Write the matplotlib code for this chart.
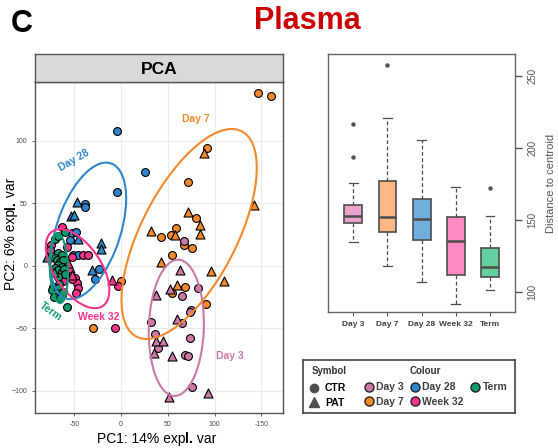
import numpy as np
import matplotlib
matplotlib.use("Agg")
import matplotlib.pyplot as plt
from matplotlib.patches import Ellipse
from matplotlib.lines import Line2D

plt.rcParams['font.family'] = ['Liberation Sans', 'DejaVu Sans']

# ---------------------------------------------------------------
# PCA scores (PC1, PC2) per group, CTR = circles, PAT = triangles

groups = ["Day 3", "Day 7", "Day 28", "Week 32", "Term"]
colours = {"Day 3": "#CC79A7", "Day 7": "#F5892B", "Day 28": "#2F86CC",
           "Week 32": "#F5348C", "Term": "#0E9A6E"}
box_colours = ["#E8A2CB", "#FFB784", "#70AEDE", "#FF8AC3", "#66CF9E"]

day7_ctr_x = [146, 160, 92, 71, 80, 59, 53, 43, 67.5, 75.5, 54.5, 68, 54, 91, 0, -30]
day7_ctr_y = [138, 136, 94, 67, 38, 30, 25, 23, 17, 14, 9, -16.5, -22, -30.4, -12, -50]
day7_pat_x = [89, 142, 71, 84.6, 57.8, 83.8, 32, 43, 96.5, 110, 59.4]
day7_pat_y = [90, 49, 43, 32.7, 25, 25.6, 28, 3.5, -4.2, -12, -15]

day3_ctr_x = [67.5, 65, 82, 75, 73.5, 64.6, 31.8, 36.4, 38.9, 74, 68.5, 71.4, 75.7]
day3_ctr_y = [20, -24, -17.3, -35.5, -36.5, -45.3, -44.5, -54.7, -65.3, -57.3, -71.2, -72, -97]
day3_pat_x = [62.5, 52.5, 37.5, 59.6, 37.5, 44.6, 35.3, 54.2, 51.4, 92.4]
day3_pat_y = [-3, -18.7, -23.2, -42.7, -59.7, -59.7, -69.3, -71.7, -104.5, -102]

day28_ctr_x = [-4, 25.4, -4.6, -38.5, -38.5, -52.8, -48.5, -54.6, -51, -45.7, -23.6, -27.8]
day28_ctr_y = [108, 75, 58.7, 49.6, 47, 26, 27, 20.8, 8.8, 8.8, -2.4, -10.4]
day28_pat_x = [-47.5, -53.5, -50, -45.7, -21.4, -21.4, -30.7]
day28_pat_y = [50.7, 39.5, 40.8, 21.3, 18.6, 13.4, -3.2]

week32_ctr_x = [-62.8, -75, -76, -52.8, -40.3, -35, -49, -47.5, -45.7, -48.5, -52.8, -2.9, -6.8, -58, -62]
week32_ctr_y = [31, 16.8, 12.8, 7, 8.8, 8.8, -9.9, -13.9, -17.8, -21.8, -10.7, -15.7, -50, 15, -12]
week32_pat_x = [-54.6, -52.8, -9.3, -57]
week32_pat_y = [-1.9, -7.2, -11.2, 2]

term_ctr_x = [-70.7, -60, -67, -67, -63.5, -70.7, -68.9, -65.3, -61.8, -67, -63.5, -70.7, -67, -63.5,
              -60.7, -60, -67, -66.4, -72.5, -73.5, -67, -70, -71.4, -63.5, -65.3, -58.1, -61.8]
term_ctr_y = [21.3, 27, 24, 10, 8.8, 6, 4.8, 3.5, 4.8, 0.8, -0.5, -2, -3.2, -4.5,
              -2.7, -6.4, -9, -14.6, -16.5, -19.2, -17.8, -21.8, -24.5, -23.2, -25.8, -32.6, -20.5]
term_pat_x = [-79.6, -72]
term_pat_y = [7.4, -5]

scores = {
    "Day 7": (day7_ctr_x, day7_ctr_y, day7_pat_x, day7_pat_y),
    "Day 3": (day3_ctr_x, day3_ctr_y, day3_pat_x, day3_pat_y),
    "Day 28": (day28_ctr_x, day28_ctr_y, day28_pat_x, day28_pat_y),
    "Week 32": (week32_ctr_x, week32_ctr_y, week32_pat_x, week32_pat_y),
    "Term": (term_ctr_x, term_ctr_y, term_pat_x, term_pat_y),
}

# 95% ellipses: centre x, centre y, full width, full height, angle (deg)
ell_x = {"Day 3": 59, "Day 7": 72.7, "Day 28": -35, "Week 32": -46.5, "Term": -66.5}
ell_y = {"Day 3": -49.5, "Day 7": 25.5, "Day 28": 28, "Week 32": -2.2, "Term": -1.8}
ell_w = {"Day 3": 109, "Day 7": 200.6, "Day 28": 119, "Week 32": 81.7, "Term": 56}
ell_h = {"Day 3": 58.8, "Day 7": 94, "Day 28": 65.4, "Week 32": 44.1, "Term": 19.4}
ell_a = {"Day 3": 87.3, "Day 7": 51.7, "Day 28": 61.5, "Week 32": -41.2, "Term": -87}

# group labels: x, y, rotation
lab_x = {"Day 3": 116, "Day 7": 80, "Day 28": -50, "Week 32": -23.5, "Term": -75}
lab_y = {"Day 3": -71.7, "Day 7": 117.6, "Day 28": 84.8, "Week 32": -40.5, "Term": -36.5}
lab_r = {"Day 3": 0, "Day 7": 0, "Day 28": 30, "Week 32": 0, "Term": -35}

# distance to centroid boxplot stats (whislo, q1, med, q3, whishi, outliers)
box_whislo = [134.5, 118, 106.7, 91.9, 101.4]
box_q1 = [148.1, 141.9, 135.9, 111.6, 110.2]
box_med = [153, 152.1, 150.5, 135.4, 117.1]
box_q3 = [160.6, 177.1, 164.6, 152.3, 130.6]
box_whishi = [175.5, 220.6, 205.6, 173.1, 152.8]
box_fliers = [[216.4, 193.5], [258], [], [], [172]]

# ---------------------------------------------------------------

fig = plt.figure(figsize=(5.58, 4.48), dpi=100)
fig.text(22 / 558, 1 - 24 / 448, "C", fontsize=22, weight='bold', ha='center', va='center')
fig.text(254 / 558, 1 - 21 / 448, "Plasma", fontsize=22, weight='bold', color='#CC0000',
         ha='left', va='center')

# PCA panel
ax = fig.add_axes([35 / 558, 35 / 448, 248 / 558, 331 / 448])
for g, (cx, cy, px, py) in scores.items():
    ax.scatter(cx, cy, s=32, marker='o', c=colours[g], edgecolors='black', linewidths=0.8, zorder=3)
    ax.scatter(px, py, s=42, marker='^', c=colours[g], edgecolors='black', linewidths=0.8, zorder=3)
for g in groups:
    ax.add_patch(Ellipse((ell_x[g], ell_y[g]), ell_w[g], ell_h[g], angle=ell_a[g],
                         fill=False, edgecolor=colours[g], lw=1.5, zorder=4))
    ax.text(lab_x[g], lab_y[g], g, color=colours[g], fontsize=7.5, weight='bold',
            rotation=lab_r[g], ha='center', va='center', zorder=5)

ax.set_xlim(-92, 173)
ax.set_ylim(-117.6, 147)
ax.set_xticks([-50, 0, 50, 100, 150])
ax.set_xticklabels(["-50", "0", "50", "100", "-150"])
ax.set_yticks([-100, -50, 0, 50, 100])
ax.tick_params(labelsize=5, colors='#4d4d4d', length=2, width=0.6)
ax.grid(True, color='#EBEBEB', lw=0.8)
ax.set_axisbelow(True)
for sp in ax.spines.values():
    sp.set_color('#555555')
    sp.set_linewidth(1)

# axis titles with the bold "l." as in the original
xl = ax.annotate("PC1: 14% exp", xy=(97 / 558, 1 - 443 / 448), xycoords='figure fraction',
                 fontsize=10, ha='left', va='baseline')
xl = ax.annotate("l.", xy=(1, 0), xycoords=xl, fontsize=10, weight='bold', ha='left', va='bottom')
ax.annotate(" var", xy=(1, 0), xycoords=xl, fontsize=10, ha='left', va='bottom')
yl = ax.annotate("PC2: 6% exp", xy=(4 / 558, 1 - 290 / 448), xycoords='figure fraction',
                 fontsize=10, rotation=90, ha='left', va='bottom')
yl = ax.annotate("l.", xy=(0, 1), xycoords=yl, fontsize=10, weight='bold', rotation=90,
                 ha='left', va='bottom')
ax.annotate(" var", xy=(0, 1), xycoords=yl, fontsize=10, rotation=90, ha='left', va='bottom')

# strip
ax_s = fig.add_axes([35 / 558, 366 / 448, 248 / 558, 28 / 448])
ax_s.set_facecolor('#D9D9D9')
ax_s.set_xticks([])
ax_s.set_yticks([])
for sp in ax_s.spines.values():
    sp.set_color('#555555')
    sp.set_linewidth(1)
ax_s.text(0.5, 0.45, "PCA", fontsize=12.5, weight='bold', ha='center', va='center',
          transform=ax_s.transAxes)

# boxplot panel
axb = fig.add_axes([328.3 / 558, 135.7 / 448, 186.7 / 558, 258.3 / 448])
stats = []
for i, g in enumerate(groups):
    stats.append(dict(label=g, whislo=box_whislo[i], q1=box_q1[i], med=box_med[i],
                      q3=box_q3[i], whishi=box_whishi[i], fliers=box_fliers[i]))
bp = axb.bxp(stats, positions=np.arange(1, 6), widths=0.52, capwidths=0.26, patch_artist=True,
             boxprops=dict(edgecolor='#4d4d4d', linewidth=1.2),
             medianprops=dict(color='#4d4d4d', linewidth=1.8),
             whiskerprops=dict(color='#4d4d4d', linewidth=0.9, linestyle=(0, (3, 2))),
             capprops=dict(color='#4d4d4d', linewidth=0.9),
             flierprops=dict(marker='o', markersize=2.2, markerfacecolor='#555555',
                             markeredgecolor='#555555'))
for patch, col in zip(bp['boxes'], box_colours):
    patch.set_facecolor(col)
axb.set_xlim(0.27, 5.73)
axb.set_ylim(85.9, 265.3)
axb.yaxis.tick_right()
axb.yaxis.set_label_position('right')
axb.set_yticks([100, 150, 200, 250])
axb.set_yticklabels(["100", "150", "200", "250"], rotation=90, va='center')
axb.tick_params(axis='y', labelsize=7, colors='#555555', length=5, width=1, pad=4)
axb.tick_params(axis='x', labelsize=6, colors='#555555', length=3, width=0.8)
for lbl in axb.get_xticklabels():
    lbl.set_fontweight('bold')
    lbl.set_color('#404040')
axb.set_ylabel("Distance to centroid", fontsize=8, color='#555555', labelpad=6, rotation=90)
for sp in axb.spines.values():
    sp.set_color('#666666')
    sp.set_linewidth(1)

# legend panel
axl = fig.add_axes([303.3 / 558, 34.7 / 448, 211.7 / 558, 53.3 / 448])
axl.set_xticks([])
axl.set_yticks([])
for sp in axl.spines.values():
    sp.set_color('#444444')
    sp.set_linewidth(1.2)
axl.text(0.04, 0.8, "Symbol", fontsize=7, weight='bold', color='#333333', va='center',
         transform=axl.transAxes)
axl.text(0.50, 0.8, "Colour", fontsize=7, weight='bold', color='#333333', va='center',
         transform=axl.transAxes)
sym_handles = [Line2D([], [], ls='none', marker='o', ms=6, color='#4d4d4d'),
               Line2D([], [], ls='none', marker='^', ms=7, color='#4d4d4d')]
leg1 = axl.legend(sym_handles, ["CTR", "PAT"], loc='upper left', bbox_to_anchor=(-0.02, 0.72),
                  frameon=False, prop=dict(size=7.5, weight='bold'), handlelength=1.2,
                  handletextpad=0.5, labelspacing=0.45, borderpad=0.3)
axl.add_artist(leg1)
col_handles = [Line2D([], [], ls='none', marker='o', ms=6.5, markerfacecolor=colours[g],
                      markeredgecolor='#222222', markeredgewidth=1) for g in groups]
leg2 = axl.legend(col_handles, groups, loc='upper left', bbox_to_anchor=(0.245, 0.74), ncol=3,
                  frameon=False, prop=dict(size=7.5, weight='bold'), handlelength=1.0,
                  handletextpad=0.2, labelspacing=0.45, columnspacing=0.6, borderpad=0.3)
for t in leg2.get_texts():
    t.set_color('#404040')

plt.savefig("out.png", dpi=100)
